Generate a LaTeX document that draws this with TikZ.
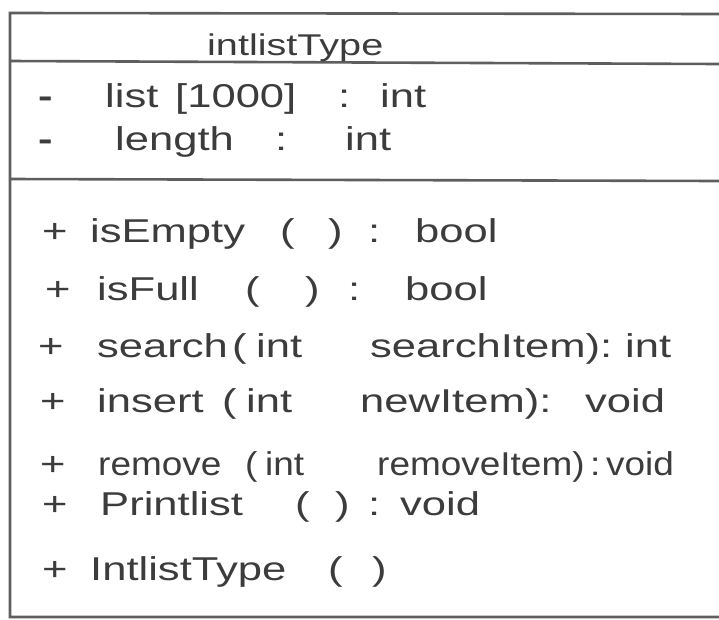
\documentclass[tikz,border=0pt]{standalone}
\usepackage{fontspec}
\setmainfont{Liberation Sans}[FakeStretch=1.32]
\newfontfamily\narrowhand{Liberation Sans}[FakeStretch=1.12]
\usetikzlibrary{positioning}
\definecolor{inkgray}{HTML}{3C3C3C}
\definecolor{rulegray}{HTML}{5E5E5E}
\tikzset{
    % --- Class frame and compartment rules ---
    frame line/.style = {
        draw=rulegray, line width=2.6pt
    },
    % --- Class name ---
    class name/.style = {
        anchor=base west, text=inkgray, inner sep=0pt,
        font=\fontsize{30}{36}\selectfont
    },
    % --- One word of a member line (attribute or operation) ---
    member/.style = {
        anchor=base west, text=inkgray, inner sep=0pt,
        font=\fontsize{33}{40}\selectfont
    },
    % --- Narrower hand on the crowded line ---
    member narrow/.style = {
        member, font=\fontsize{33}{40}\narrowhand
    },
    % --- Private marker (heavy dash) ---
    private/.style = {
        member, font=\fontsize{33}{40}\selectfont\bfseries
    }
}
\begin{document}
\begin{tikzpicture}[x=1pt, y=-1pt]

% ---------------------------------------------------------
% Page
% ---------------------------------------------------------
\useasboundingbox[fill=white] (0,0) rectangle (719,619);

% ---------------------------------------------------------
% Frame
% ---------------------------------------------------------
\coordinate (TopL) at (10,13);
\coordinate (TopR) at (719,14);
\coordinate (NameL) at (10,61);
\coordinate (NameR) at (719,64);
\coordinate (AttrL) at (10,179);
\coordinate (AttrR) at (719,181);
\coordinate (BotL) at (10,617);
\coordinate (BotR) at (719,617);

\draw[frame line] (TopR) -- (TopL) -- (BotL) -- (BotR);
\draw[frame line] (NameL) -- (NameR);
\draw[frame line] (AttrL) -- (AttrR);

% ---------------------------------------------------------
% Class name
% ---------------------------------------------------------
\node[class name] (ClassName) at (207,55) {intlistType};

% ---------------------------------------------------------
% Attributes
% ---------------------------------------------------------
\node[private] (ListVis) at (38,107) {-};
\foreach \x/\w [count=\k] in {105/list, 175/{[1000]}, 338/:, 380/int}
    \node[member] (List-\k) at (\x,107) {\w};
\node[private] (LengthVis) at (38,150) {-};
\foreach \x/\w [count=\k] in {115/length, 275/:, 345/int}
    \node[member] (Length-\k) at (\x,150) {\w};

% ---------------------------------------------------------
% Operations
% ---------------------------------------------------------
\foreach \x/\w [count=\k] in {42/+, 90/isEmpty, 280/(, 328/), 368/:, 415/bool}
    \node[member] (IsEmpty-\k) at (\x,242) {\w};
\foreach \x/\w [count=\k] in {45/+, 97/isFull, 245/(, 305/), 348/:, 405/bool}
    \node[member] (IsFull-\k) at (\x,300) {\w};
\foreach \x/\w [count=\k] in {38/+, 97/search, 232/(, 256/int, 370/searchItem):, 625/int}
    \node[member] (Search-\k) at (\x,357) {\w};
\foreach \x/\w [count=\k] in {40/+, 97/insert, 222/(, 246/int, 360/newItem):, 585/void}
    \node[member] (Insert-\k) at (\x,412) {\w};
\node[member] (RemoveVis) at (40,475) {+};
\foreach \x/\w [count=\k] in {98/remove, 245/(, 265/int, 377/removeItem), 590/:, 606/void}
    \node[member narrow] (Remove-\k) at (\x,475) {\w};
\foreach \x/\w [count=\k] in {42/+, 100/Printlist, 295/(, 335/), 368/:, 400/void}
    \node[member] (Print-\k) at (\x,515) {\w};
\foreach \x/\w [count=\k] in {42/+, 90/IntlistType, 328/(, 372/)}
    \node[member] (Ctor-\k) at (\x,580) {\w};

\end{tikzpicture}
\end{document}
